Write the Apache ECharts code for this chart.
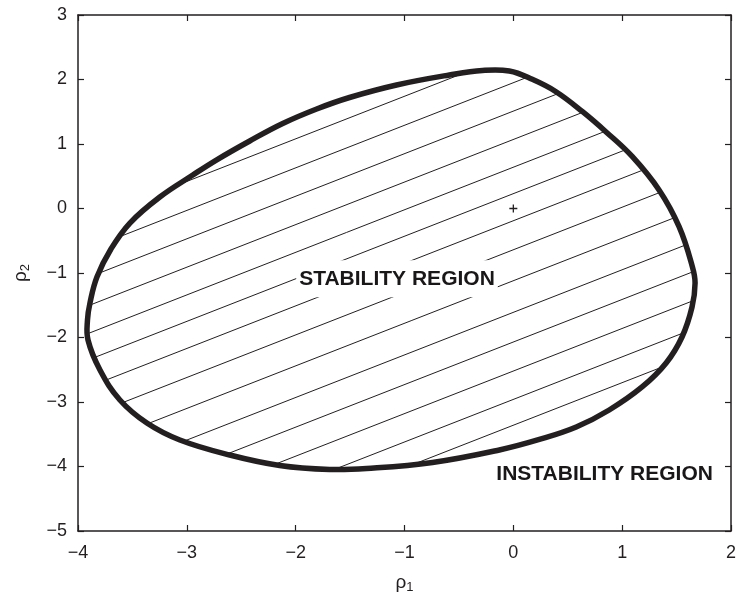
<!DOCTYPE html>
<html>
<head>
<meta charset="utf-8">
<script src="https://cdn.jsdelivr.net/npm/echarts@6/dist/echarts.min.js"></script>
<style>
html,body{margin:0;padding:0;background:#fff;}
#chart{width:739px;height:601px;}
</style>
</head>
<body>
<div id="chart"></div>
<script>
// ---- data ----
const curveX = [-2.119, -1.807, -1.505, -1.073, -0.587, -0.284, -0.037, 0.174, 0.392, 0.636, 0.850, 1.094, 1.339, 1.523, 1.645, 1.670, 1.642, 1.550, 1.404, 1.183, 0.881, 0.578, 0.239, -0.128, -0.743, -1.349, -1.688, -2.147, -2.606, -3.064, -3.367, -3.615, -3.798, -3.908, -3.913, -3.890, -3.826, -3.697, -3.523, -3.248, -2.945, -2.725, -2.422];
const curveY = [1.318, 1.543, 1.721, 1.915, 2.070, 2.140, 2.132, 2.003, 1.811, 1.501, 1.191, 0.803, 0.287, -0.282, -0.902, -1.155, -1.527, -1.992, -2.395, -2.767, -3.124, -3.388, -3.581, -3.744, -3.938, -4.031, -4.046, -3.984, -3.822, -3.589, -3.326, -2.969, -2.504, -2.039, -1.729, -1.465, -1.062, -0.628, -0.225, 0.178, 0.519, 0.755, 1.047];
const hatchSlope = 0.66;
const hatchIntercepts = [2.40, 1.95, 1.51, 1.07, 0.64, 0.23, -0.19, -0.64, -1.12, -1.61, -2.07, -2.52, -2.96, -3.36];
const equilibrium = [[0, 0]];
const xTicks = {min: -4, max: 2, step: 1};
const yTicks = {min: -5, max: 3, step: 1};
const regionLabels = [
  {text: 'STABILITY REGION', x: -1.069, y: -1.09},
  {text: 'INSTABILITY REGION', x: 0.839, y: -4.124}
];
const xName = 'ρ';
const xSub = '1';
const yName = 'ρ';
const ySub = '2';

// ---- build ----
const curve = curveX.map((x, i) => [x, curveY[i]]);

function hatchSegments() {
  const segs = [];
  const n = curve.length;
  hatchIntercepts.forEach(c => {
    const pts = [];
    for (let i = 0; i < n; i++) {
      const p = curve[i], q = curve[(i + 1) % n];
      const f1 = p[1] - hatchSlope * p[0] - c;
      const f2 = q[1] - hatchSlope * q[0] - c;
      if ((f1 <= 0 && f2 > 0) || (f1 > 0 && f2 <= 0)) {
        const t = f1 / (f1 - f2);
        pts.push([p[0] + t * (q[0] - p[0]), p[1] + t * (q[1] - p[1])]);
      }
    }
    pts.sort((a, b) => a[0] - b[0]);
    for (let k = 0; k + 1 < pts.length; k += 2) {
      segs.push({coords: [pts[k], pts[k + 1]]});
    }
  });
  return segs;
}

const FONT = '"Liberation Sans", Arial, Helvetica, sans-serif';
const INK = '#231f20';
const minus = v => String(v).replace('-', '\u2212');

function axisCommon(extra) {
  return Object.assign({
    type: 'value',
    axisLine: {show: true, onZero: false, lineStyle: {color: INK, width: 1.5}},
    axisTick: {show: true, inside: true, length: 6, lineStyle: {color: INK, width: 1.2}},
    splitLine: {show: false},
    axisLabel: {show: false}
  }, extra);
}

const chart = echarts.init(document.getElementById('chart'), null, {renderer: 'canvas'});
chart.setOption({
  animation: false,
  backgroundColor: '#fff',
  grid: {left: 78, right: 7, top: 15, bottom: 70, containLabel: false},
  xAxis: [
    axisCommon({
      position: 'bottom', min: xTicks.min, max: xTicks.max, interval: xTicks.step,
      axisLabel: {show: true, formatter: minus, color: INK, fontSize: 18, fontFamily: FONT, margin: 13},
      name: '{r|' + xName + '}{s|' + xSub + '}',
      nameLocation: 'middle', nameGap: 40,
      nameTextStyle: {color: INK, fontFamily: FONT, rich: {
        r: {fontSize: 19, fontFamily: FONT, color: INK},
        s: {fontSize: 13, fontFamily: FONT, color: INK, padding: [10, 0, 0, 0]}
      }}
    }),
    axisCommon({position: 'top', min: xTicks.min, max: xTicks.max, interval: xTicks.step})
  ],
  yAxis: [
    axisCommon({
      position: 'left', min: yTicks.min, max: yTicks.max, interval: yTicks.step,
      axisLabel: {show: true, formatter: minus, color: INK, fontSize: 18, fontFamily: FONT, margin: 11},
      name: '{r|' + yName + '}{s|' + ySub + '}',
      nameLocation: 'middle', nameGap: 46, nameRotate: 90,
      nameTextStyle: {color: INK, fontFamily: FONT, rich: {
        r: {fontSize: 19, fontFamily: FONT, color: INK},
        s: {fontSize: 13, fontFamily: FONT, color: INK, padding: [10, 0, 0, 0]}
      }}
    }),
    axisCommon({position: 'right', min: yTicks.min, max: yTicks.max, interval: yTicks.step})
  ],
  series: [
    {
      type: 'lines', coordinateSystem: 'cartesian2d', z: 2,
      data: hatchSegments(),
      lineStyle: {color: INK, width: 1, opacity: 1}
    },
    {
      type: 'custom', z: 3, data: [[0, 0]],
      renderItem: function (params, api) {
        const pts = curve.map(p => api.coord(p));
        return {
          type: 'polygon',
          shape: {points: pts, smooth: 0.4},
          style: {fill: null, stroke: INK, lineWidth: 5.5, lineJoin: 'round'}
        };
      }
    },
    {
      type: 'scatter', z: 4, data: equilibrium,
      symbol: 'path://M4.2,0H5.8V4.2H10V5.8H5.8V10H4.2V5.8H0V4.2H4.2Z',
      symbolSize: 8, itemStyle: {color: INK, opacity: 1}
    },
    {
      type: 'scatter', z: 5,
      data: regionLabels.map(d => ({value: [d.x, d.y], name: d.text})),
      symbolSize: 1, itemStyle: {color: 'rgba(0,0,0,0)', opacity: 1},
      label: {
        show: true, position: 'inside', formatter: p => p.name, opacity: 1,
        fontFamily: FONT, fontWeight: 'bold', fontSize: 21, color: '#1a1718',
        textBorderWidth: 0,
        backgroundColor: '#fff', padding: [8, 3]
      }
    }
  ]
});
</script>
</body>
</html>
